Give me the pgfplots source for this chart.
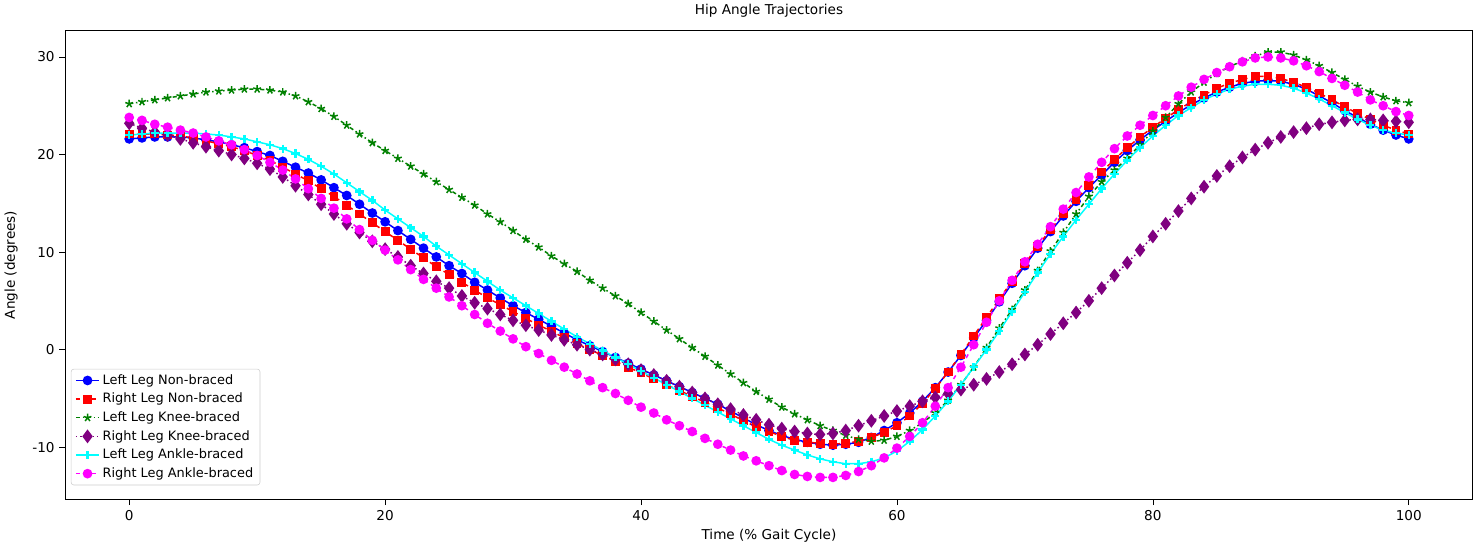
\documentclass[border=0pt]{standalone}
\usepackage{pgfplots}
\usepackage{pgfplotstable}
\pgfplotsset{compat=1.18}
\usepackage{fontspec}
\setmainfont{DejaVu Sans}
\pgfplotstableread{
x B R G P C M
0 21.6 22.1 25.2 23.2 22.0 23.8
1 21.7 22.1 25.4 22.7 22.1 23.5
2 21.8 22.1 25.6 22.3 22.2 23.1
3 21.8 22.0 25.8 22.0 22.2 22.8
4 21.8 21.9 26.0 21.6 22.2 22.5
5 21.7 21.7 26.2 21.2 22.2 22.2
6 21.5 21.4 26.4 20.8 22.1 21.8
7 21.3 21.1 26.5 20.4 22.0 21.4
8 21.0 20.8 26.6 20.0 21.8 21.0
9 20.7 20.4 26.7 19.6 21.6 20.5
10 20.3 19.9 26.7 19.1 21.3 19.9
11 19.9 19.4 26.6 18.5 21.0 19.2
12 19.3 18.7 26.4 17.7 20.6 18.4
13 18.7 18.0 26.0 16.8 20.1 17.5
14 18.1 17.3 25.4 15.9 19.5 16.5
15 17.4 16.5 24.7 14.9 18.8 15.5
16 16.6 15.7 23.9 13.9 18.0 14.5
17 15.8 14.8 23.0 12.9 17.1 13.4
18 14.9 13.9 22.1 12.0 16.2 12.3
19 14.0 13.0 21.2 11.1 15.3 11.2
20 13.1 12.1 20.4 10.3 14.3 10.2
21 12.2 11.2 19.6 9.5 13.4 9.2
22 11.3 10.3 18.8 8.6 12.5 8.2
23 10.4 9.4 18.0 7.8 11.6 7.2
24 9.5 8.5 17.2 7.0 10.6 6.3
25 8.6 7.7 16.4 6.3 9.7 5.4
26 7.8 6.9 15.6 5.5 8.8 4.5
27 6.9 6.1 14.8 4.8 7.9 3.6
28 6.1 5.3 13.9 4.2 7.0 2.7
29 5.3 4.6 13.1 3.6 6.1 1.9
30 4.5 3.9 12.2 3.0 5.3 1.1
31 3.8 3.2 11.3 2.5 4.5 0.3
32 3.1 2.5 10.5 2.0 3.7 -0.4
33 2.4 1.9 9.6 1.5 2.9 -1.1
34 1.7 1.2 8.8 1.0 2.1 -1.8
35 1.0 0.6 8.0 0.5 1.3 -2.5
36 0.4 0.0 7.1 0.0 0.6 -3.2
37 -0.2 -0.6 6.3 -0.5 -0.1 -3.9
38 -0.8 -1.2 5.5 -1.0 -0.8 -4.5
39 -1.4 -1.8 4.7 -1.5 -1.5 -5.2
40 -2.0 -2.4 3.8 -2.1 -2.2 -5.9
41 -2.6 -3.0 2.9 -2.6 -2.9 -6.5
42 -3.2 -3.6 2.0 -3.2 -3.6 -7.2
43 -3.8 -4.2 1.1 -3.8 -4.3 -7.8
44 -4.4 -4.8 0.2 -4.4 -5.0 -8.4
45 -5.0 -5.4 -0.7 -5.0 -5.7 -9.1
46 -5.6 -6.0 -1.6 -5.6 -6.4 -9.7
47 -6.3 -6.6 -2.5 -6.1 -7.1 -10.3
48 -7.0 -7.3 -3.4 -6.7 -7.8 -10.9
49 -7.7 -7.9 -4.3 -7.2 -8.5 -11.4
50 -8.3 -8.4 -5.1 -7.7 -9.2 -11.9
51 -8.8 -8.9 -5.9 -8.1 -9.8 -12.4
52 -9.2 -9.3 -6.6 -8.4 -10.3 -12.8
53 -9.5 -9.5 -7.2 -8.6 -10.8 -13.0
54 -9.7 -9.6 -7.8 -8.7 -11.2 -13.1
55 -9.8 -9.7 -8.3 -8.6 -11.5 -13.1
56 -9.7 -9.6 -8.8 -8.3 -11.7 -12.9
57 -9.5 -9.4 -9.2 -7.8 -11.7 -12.5
58 -9.0 -9.0 -9.4 -7.3 -11.5 -11.9
59 -8.3 -8.5 -9.3 -6.8 -11.1 -11.1
60 -7.5 -7.8 -8.9 -6.3 -10.4 -10.1
61 -6.5 -6.8 -8.3 -5.8 -9.4 -8.9
62 -5.3 -5.5 -7.5 -5.3 -8.2 -7.5
63 -3.9 -4.0 -6.5 -4.9 -6.8 -5.8
64 -2.3 -2.3 -5.2 -4.5 -5.3 -3.9
65 -0.6 -0.5 -3.6 -4.1 -3.6 -1.8
66 1.2 1.4 -1.8 -3.6 -1.8 0.5
67 3.0 3.3 0.2 -3.0 0.0 2.8
68 4.9 5.2 2.2 -2.3 1.9 5.0
69 6.8 7.0 4.1 -1.5 3.9 7.1
70 8.6 8.8 6.1 -0.5 5.9 9.0
71 10.4 10.6 8.1 0.5 7.9 10.8
72 12.1 12.3 10.1 1.6 9.8 12.6
73 13.7 13.9 12.0 2.7 11.6 14.4
74 15.2 15.4 13.9 3.8 13.3 16.1
75 16.6 16.8 15.7 5.0 14.9 17.7
76 17.9 18.2 17.2 6.3 16.5 19.2
77 19.2 19.5 18.4 7.6 18.0 20.6
78 20.4 20.7 19.6 8.9 19.4 21.9
79 21.5 21.8 21.0 10.2 20.7 23.0
80 22.5 22.8 22.4 11.6 21.9 24.0
81 23.4 23.7 23.8 12.9 23.0 25.0
82 24.3 24.6 25.2 14.2 24.0 26.0
83 25.1 25.4 26.4 15.5 24.8 26.9
84 25.8 26.1 27.4 16.7 25.6 27.7
85 26.4 26.8 28.3 17.8 26.2 28.4
86 26.9 27.3 29.0 18.8 26.7 29.0
87 27.3 27.7 29.6 19.7 27.0 29.5
88 27.5 28.0 30.1 20.5 27.2 29.9
89 27.6 28.0 30.5 21.2 27.2 30.0
90 27.5 27.8 30.5 21.8 27.1 29.9
91 27.2 27.4 30.2 22.3 26.8 29.6
92 26.7 26.9 29.7 22.7 26.3 29.1
93 26.0 26.3 29.1 23.1 25.7 28.5
94 25.3 25.6 28.4 23.3 25.0 27.8
95 24.5 24.9 27.7 23.5 24.3 27.1
96 23.8 24.2 27.0 23.6 23.6 26.4
97 23.1 23.6 26.4 23.6 23.0 25.6
98 22.5 23.0 25.9 23.5 22.5 25.0
99 22.0 22.5 25.5 23.4 22.2 24.4
100 21.6 22.1 25.3 23.3 22.0 24.0
}\data
\definecolor{mgreen}{RGB}{0,128,0}
\definecolor{mpurple}{RGB}{128,0,128}
\definecolor{mcyan}{RGB}{0,255,255}
\definecolor{mmag}{RGB}{255,0,255}
\definecolor{mblue}{RGB}{0,0,255}
\definecolor{mred}{RGB}{255,0,0}
\begin{document}
\begin{tikzpicture}
\begin{axis}[
  scale only axis, width=1036pt, height=345pt,
  xmin=-5, xmax=105, ymin=-15.35, ymax=32.7,
  xtick={0,20,...,100}, ytick={-10,0,10,20,30},
  tick align=outside, tick style={black, thin},
  xtick pos=bottom, ytick pos=left,
  /pgf/number format/assume math mode=true,
  font=\fontsize{10}{12}\selectfont,
  title={Hip Angle Trajectories},
  xlabel={Time (\% Gait Cycle)}, ylabel={Angle (degrees)},
  ylabel style={yshift=4pt},
  legend style={at={(0.004,0.03)}, anchor=south west, draw=black!20, rounded corners=2pt, font=\fontsize{9.5}{11}\selectfont, row sep=1pt},
  legend cell align=left,
  every axis plot/.append style={line width=1.1pt},
]
\addplot[mblue, mark=*, mark size=3pt] table[x=x,y=B]{\data};
\addlegendentry{Left Leg Non-braced}
\addplot[mred, dashed, mark=square*, mark size=2.7pt, mark options={solid}] table[x=x,y=R]{\data};
\addlegendentry{Right Leg Non-braced}
\addplot[mgreen, dash dot, mark=star, mark size=3pt, mark options={solid}] table[x=x,y=G]{\data};
\addlegendentry{Left Leg Knee-braced}
\addplot[mpurple, dotted, mark=diamond*, mark size=4.2pt, mark options={solid}] table[x=x,y=P]{\data};
\addlegendentry{Right Leg Knee-braced}
\addplot[mcyan, mark=+, mark size=3pt, mark options={solid, line width=1.8pt}] table[x=x,y=C]{\data};
\addlegendentry{Left Leg Ankle-braced}
\addplot[mmag, dashed, mark=*, mark size=3pt, mark options={solid}] table[x=x,y=M]{\data};
\addlegendentry{Right Leg Ankle-braced}
\end{axis}
\end{tikzpicture}
\end{document}
